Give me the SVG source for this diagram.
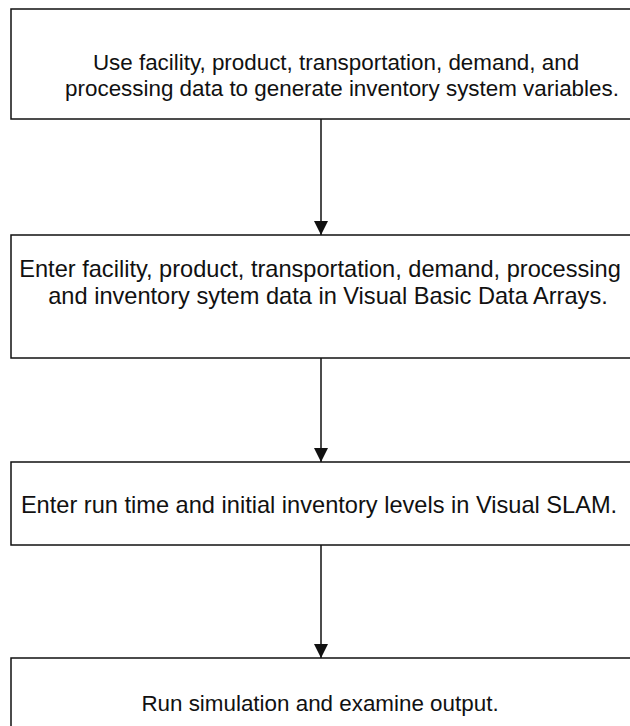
<svg xmlns="http://www.w3.org/2000/svg" width="630" height="726" viewBox="0 0 630 726">
  <defs>
    <style>
      .box { fill: #ffffff; stroke: #111111; stroke-width: 1.5; }
      .label { font-family: "Liberation Sans", Arial, sans-serif; font-size: 22.4px; fill: #111111; text-anchor: middle; }
      .wide { font-size: 23.6px; }
      .edge { stroke: #111111; stroke-width: 1.5; fill: none; marker-end: url(#arrow); }
    </style>
    <marker id="arrow" viewBox="0 0 14 14" refX="14" refY="7" markerUnits="userSpaceOnUse" markerWidth="14" markerHeight="14" orient="auto">
      <path d="M0,0 L14,7 L0,14 Z" fill="#111111"/>
    </marker>
  </defs>
  <rect width="630" height="726" fill="#ffffff"/>

  <!-- boxes run past the right edge of the page -->
  <g id="step-generate-variables">
    <rect class="box" x="11" y="9" width="660" height="110"/>
    <text class="label" x="336" y="70">Use facility, product, transportation, demand, and</text>
    <text class="label" x="342" y="96">processing data to generate inventory system variables.</text>
  </g>

  <g id="step-enter-arrays">
    <rect class="box" x="11" y="235" width="660" height="123"/>
    <text class="label wide" x="320" y="277">Enter facility, product, transportation, demand, processing</text>
    <text class="label wide" x="328" y="304">and inventory sytem data in Visual Basic Data Arrays.</text>
  </g>

  <g id="step-enter-slam">
    <rect class="box" x="11" y="462" width="660" height="83"/>
    <text class="label wide" x="319" y="513">Enter run time and initial inventory levels in Visual SLAM.</text>
  </g>

  <g id="step-run-simulation">
    <rect class="box" x="11" y="658" width="660" height="100"/>
    <text class="label" x="320" y="711">Run simulation and examine output.</text>
  </g>

  <g id="connectors">
    <line class="edge" x1="321" y1="119" x2="321" y2="235"/>
    <line class="edge" x1="321" y1="358" x2="321" y2="462"/>
    <line class="edge" x1="321" y1="545" x2="321" y2="658"/>
  </g>
</svg>
